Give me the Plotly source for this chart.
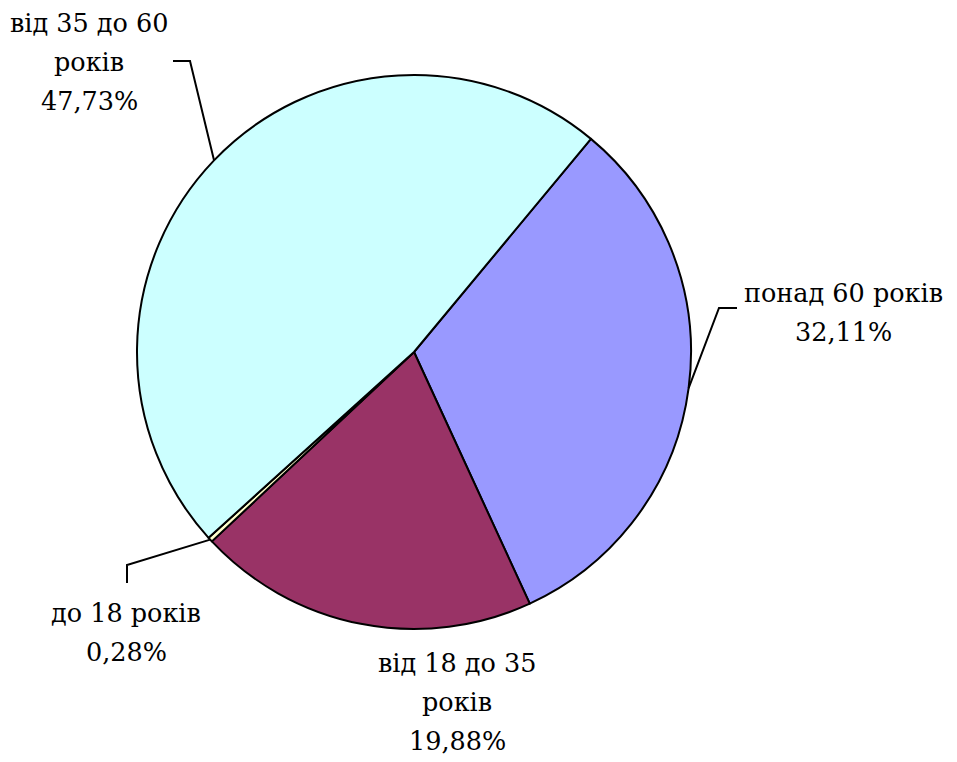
import math
import plotly.graph_objects as go

# ---- data ----
categories = ["понад 60 років", "від 18 до 35 років", "до 18 років", "від 35 до 60 років"]
values = [32.11, 19.88, 0.28, 47.73]
label_lines = [["понад 60 років", "32,11%"],
               ["від 18 до 35", "років", "19,88%"],
               ["до 18 років", "0,28%"],
               ["від 35 до 60", "років", "47,73%"]]
colors = ["#9999FF", "#993366", "#FFFFCC", "#CCFFFF"]

# ---- layout geometry (pixels) ----
W, H = 957, 762
L, R, T, B = 137, 266, 75, 133
PW, PH = W - L - R, H - T - B
CX, CY = L + PW / 2, T + PH / 2
RAD = min(PW, PH) / 2
ROTATION = 39.7
FONT = "DejaVu Serif"
FSIZE = 25.5
LINE_GAP = 39

def to_paper(px, py):
    return (px - L) / PW, (H - B - py) / PH

# label centres and leader elbows (pixels)
label_pos = [(843, 312), (457, 702), (126, 632), (89, 62)]
leader_elbow = [[(719, 308), (737, 308)], None, [(127, 565), (127, 583)], [(190, 61), (173, 61)]]

fig = go.Figure(go.Pie(
    labels=categories, values=values, sort=False, direction="clockwise",
    rotation=ROTATION, textinfo="none", hoverinfo="label+percent",
    marker=dict(colors=colors, line=dict(color="black", width=2)),
    showlegend=False,
))

annotations = []
shapes = []
total = sum(values)
start = ROTATION
for i, v in enumerate(values):
    span = v / total * 360
    mid = math.radians(start + span / 2)
    start += span
    ex, ey = CX + RAD * math.sin(mid), CY - RAD * math.cos(mid)
    n = len(label_lines[i])
    for k, line in enumerate(label_lines[i]):
        px, py = label_pos[i][0], label_pos[i][1] + (k - (n - 1) / 2) * LINE_GAP
        lx, ly = to_paper(px, py)
        annotations.append(dict(x=lx, y=ly, xref="paper", yref="paper", text=line,
                                showarrow=False, xanchor="center", yanchor="middle",
                                font=dict(family=FONT, size=FSIZE, color="black")))
    if leader_elbow[i]:
        pts = [(ex, ey)] + leader_elbow[i]
        path = "M " + " L ".join(f"{to_paper(px, py)[0]},{to_paper(px, py)[1]}" for px, py in pts)
        shapes.append(dict(type="path", xref="paper", yref="paper", path=path,
                           line=dict(color="black", width=2)))

fig.update_layout(
    width=W, height=H, margin=dict(l=L, r=R, t=T, b=B),
    paper_bgcolor="white", plot_bgcolor="white",
    font=dict(family=FONT),
    annotations=annotations, shapes=shapes,
)
fig.write_html("out.html", config={"displayModeBar": False},
               post_script="document.body.style.margin='0';document.body.style.padding='0';")
